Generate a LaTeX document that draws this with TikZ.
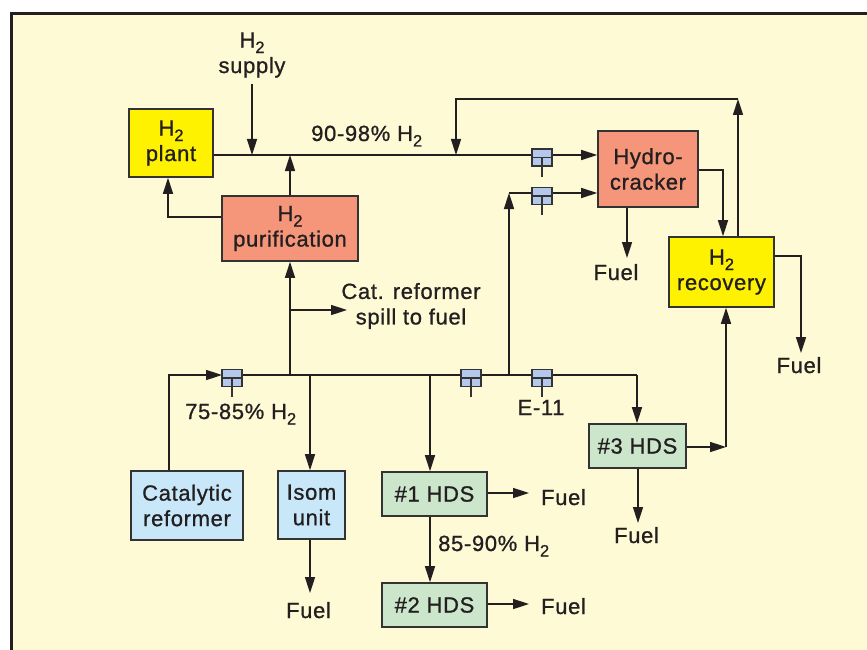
\documentclass[tikz,border=0pt]{standalone}
\usepackage{fontspec}
\setmainfont{Liberation Sans}[LetterSpace=3.0, FakeBold=0.9]
\usetikzlibrary{arrows.meta}
\definecolor{bg}{HTML}{FFFAD6}
\definecolor{ink}{HTML}{231F20}
\definecolor{edge}{HTML}{333333}
\definecolor{yel}{HTML}{FFF200}
\definecolor{salmon}{HTML}{F5967A}
\definecolor{lblue}{HTML}{C8E8FA}
\definecolor{lgreen}{HTML}{CCE6CC}
\definecolor{vblue}{HTML}{B4C8EC}
\newcommand\Htwo{H\raisebox{-5.5pt}{\fontsize{16.5}{16.5}\selectfont 2}}
\newcommand\valvesym[2]{%
  \node[valve] (#1) at (#2) {};
  \draw[vst] (#1.west) -- (#1.east) (#1.center) -- ++(0,19);}
\begin{document}
\begin{tikzpicture}[x=1pt,y=-1pt,
  txt/.style={font=\fontsize{22}{25.5}\selectfont, text=ink, inner sep=0pt},
  box/.style={txt, draw=edge, line width=1.6pt, align=center},
  conn/.style={draw=ink, line width=1.6pt},
  arr/.style={-{Triangle[length=16pt,width=10pt]}},
  valve/.style={draw=edge, fill=vblue, line width=1.5pt, minimum width=20pt, minimum height=17pt, inner sep=0pt},
  vst/.style={draw=edge, line width=1.5pt}
]
\useasboundingbox (0,0) rectangle (867,650);
\fill[white] (0,0) rectangle (867,650);
\fill[bg] (11,13) rectangle (867,650);
\draw[ink, line width=3pt] (11.5,650) -- (11.5,13.5) -- (867,13.5);

% boxes
\node[box, fill=yel, minimum width=84pt, minimum height=68pt] (plant) at (171,143) {\Htwo\\plant};
\node[box, fill=salmon, minimum width=136pt, minimum height=65pt] (purif) at (290,228.5) {\Htwo\\purification};
\node[box, fill=salmon, minimum width=100pt, minimum height=76pt] (hydro) at (648,169) {Hydro-\\cracker};
\node[box, fill=yel, minimum width=105pt, minimum height=70pt] (recov) at (721.5,272) {\Htwo\\recovery};
\node[box, fill=lblue, minimum width=112pt, minimum height=69pt] (cat) at (187,505.5) {Catalytic\\reformer};
\node[box, fill=lblue, minimum width=67pt, minimum height=68pt] (isom) at (311.5,505) {Isom\\unit};
\node[box, fill=lgreen, minimum width=105pt, minimum height=44pt] (hds1) at (434.5,494) {\#1 HDS};
\node[box, fill=lgreen, minimum width=105pt, minimum height=44pt] (hds2) at (434.5,605) {\#2 HDS};
\node[box, fill=lgreen, minimum width=97pt, minimum height=44pt] (hds3) at (637.5,446) {\#3 HDS};

% coordinates
\coordinate (jSup) at (252,155);
\coordinate (jRec) at (456,155);
\coordinate (supTop) at (252,84);
\coordinate (cPur) at (168,217);
\coordinate (cR) at (738,99);
\coordinate (h509) at (509,375);
\coordinate (c509) at (509,193);
\coordinate (hOut) at (723,170);
\coordinate (hF) at (627,258);
\coordinate (rOut) at (801,256);
\coordinate (rF) at (801,353);
\coordinate (c726) at (726,447);
\coordinate (h3F) at (638,523);
\coordinate (cCat) at (169,375);
\coordinate (cHd) at (637,375);
\coordinate (b290) at (290,375);
\coordinate (spill) at (290,310);
\coordinate (spillE) at (347,310);
\coordinate (b310) at (310,375);
\coordinate (iF) at (310,593);
\coordinate (b430) at (430,375);
\coordinate (f1) at (529,493);
\coordinate (f2) at (529,604);

% top connectors
\draw[conn,arr] (plant.east |- jSup) -- (hydro.west |- jSup);
\draw[conn,arr] (supTop) -- (jSup);
\draw[conn,arr] (purif.north) -- (purif.north |- jSup);
\draw[conn,arr] (purif.west |- cPur) -| (plant.south -| cPur);
\draw[conn,arr] (recov.north -| cR) -- (cR);
\draw[conn,arr] (cR) -| (jRec);
\draw[conn,arr] (h509) -- (c509);
\draw[conn,arr] (c509) -- (hydro.west |- c509);
\draw[conn,arr] (hydro.east |- hOut) -| (recov.north -| hOut);
\draw[conn,arr] (hydro.south -| hF) -- (hF);
\draw[conn,arr] (recov.east |- rOut) -| (rF);
\draw[conn,arr] (hds3.east |- c726) -- (c726);
\draw[conn,arr] (c726) -- (recov.south -| c726);
\draw[conn,arr] (hds3.south -| h3F) -- (h3F);

% header
\draw[conn,arr] (cat.north -| cCat) -- (cCat) -- (222,375);
\draw[conn] (242,375) -- (cHd);
\draw[conn,arr] (cHd) -- (hds3.north -| cHd);
\draw[conn,arr] (b290) -- (purif.south -| b290);
\draw[conn,arr] (spill) -- (spillE);
\draw[conn,arr] (b310) -- (isom.north -| b310);
\draw[conn,arr] (isom.south -| iF) -- (iF);
\draw[conn,arr] (b430) -- (hds1.north -| b430);
\draw[conn,arr] (hds1.south -| b430) -- (hds2.north -| b430);
\draw[conn,arr] (hds1.east |- f1) -- (f1);
\draw[conn,arr] (hds2.east |- f2) -- (f2);

% valves
\valvesym{vA}{542,157.5}
\valvesym{vB}{542,196}
\valvesym{v1}{232,378}
\valvesym{v2}{471,378}
\valvesym{vE}{542,378}

% labels
\node[txt, align=center] (lsup) at (252,55) {\Htwo\\supply};
\node[txt, anchor=base west] (l9098) at (311,141) {90-98\% \Htwo};
\node[txt, anchor=base west] (l7585) at (185,419) {75-85\% \Htwo};
\node[txt, anchor=base west] (l8590) at (438,551) {85-90\% \Htwo};
\node[txt, anchor=base] (lE11) at (541,415) {E-11};
\node[txt, align=center] (lspill) at (411,306) {Cat. reformer\\spill to fuel};
\node[txt, anchor=base] (fuelH) at (616,280) {Fuel};
\node[txt, anchor=base] (fuelR) at (799,373) {Fuel};
\node[txt, anchor=base] (fuelI) at (308.5,618) {Fuel};
\node[txt, anchor=base] (fuel1) at (563.5,505) {Fuel};
\node[txt, anchor=base] (fuel2) at (563.5,614) {Fuel};
\node[txt, anchor=base] (fuel3) at (636.5,543) {Fuel};
\end{tikzpicture}
\end{document}
